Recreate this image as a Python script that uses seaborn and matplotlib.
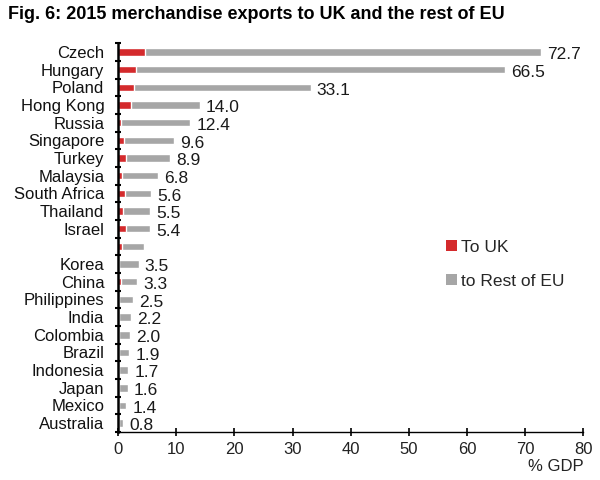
import matplotlib
matplotlib.use("Agg")
import matplotlib.pyplot as plt
from matplotlib.patches import Patch
from matplotlib.ticker import FixedLocator
import seaborn as sns
import pandas as pd

countries = ["Czech", "Hungary", "Poland", "Hong Kong", "Russia", "Singapore",
             "Turkey", "Malaysia", "South Africa", "Thailand", "Israel", " ",
             "Korea", "China", "Philippines", "India", "Colombia", "Brazil",
             "Indonesia", "Japan", "Mexico", "Australia"]
total = [72.7, 66.5, 33.1, 14.0, 12.4, 9.6, 8.9, 6.8, 5.6, 5.5, 5.4, 4.4,
         3.5, 3.3, 2.5, 2.2, 2.0, 1.9, 1.7, 1.6, 1.4, 0.8]
to_uk = [4.6, 3.1, 2.7, 2.2, 0.5, 1.0, 1.3, 0.7, 1.1, 0.8, 1.3, 0.7,
         0.2, 0.5, 0.1, 0.1, 0.1, 0.1, 0.1, 0.1, 0.1, 0.1]
value_labels = ["72.7", "66.5", "33.1", "14.0", "12.4", "9.6", "8.9", "6.8",
                "5.6", "5.5", "5.4", "", "3.5", "3.3", "2.5", "2.2", "2.0",
                "1.9", "1.7", "1.6", "1.4", "0.8"]
x_ticks = [0, 10, 20, 30, 40, 50, 60, 70, 80]

RED = "#D42A2C"
GRAY = "#A6A6A6"

sns.set_theme(style="white")
plt.rcParams["font.family"] = ["Liberation Sans", "DejaVu Sans"]

df = pd.DataFrame({"country": countries, "total": total, "uk": to_uk})

fig = plt.figure(figsize=(6, 4.8), dpi=100)
ax = fig.add_axes([0.197, 0.100, 0.775, 0.810])

sns.barplot(data=df, y="country", x="total", order=countries, color=GRAY,
            width=0.42, saturation=1, ax=ax, orient="h")
sns.barplot(data=df, y="country", x="uk", order=countries, color=RED,
            width=0.42, saturation=1, ax=ax, orient="h")

for i, (v, lab) in enumerate(zip(total, value_labels)):
    if lab:
        ax.annotate(lab, xy=(v, i), xytext=(4.5, -2), textcoords="offset points",
                    ha="left", va="center", fontsize=12.5, color="#1a1a1a")

ax.set_xlim(0, 80)
ax.set_ylim(len(countries) - 0.5, -0.5)
ax.set_xticks(x_ticks)
ax.set_xticklabels([str(t) for t in x_ticks], fontsize=12, color="#222222")
ax.set_xlabel("")
ax.set_ylabel("")
ax.tick_params(axis="y", which="major", length=0, labelsize=12, pad=10,
               labelcolor="#111111")
ax.yaxis.set_minor_locator(FixedLocator([i + 0.5 for i in range(-1, len(countries))]))
ax.tick_params(axis="y", which="minor", length=5, width=1.5, direction="inout",
               color="black", left=True)
ax.tick_params(axis="x", which="major", length=6, width=1.2, direction="inout",
               color="black", bottom=True, pad=4)

for s in ["top", "right"]:
    ax.spines[s].set_visible(False)
ax.spines["left"].set_color("black")
ax.spines["left"].set_linewidth(1.8)
ax.spines["bottom"].set_color("black")
ax.spines["bottom"].set_linewidth(1.0)

fig.text(0.972, 0.028, "% GDP", ha="right", va="center", fontsize=12,
         color="#222222")
fig.text(0.013, 0.969, "Fig. 6: 2015 merchandise exports to UK and the rest of EU",
         ha="left", va="center", fontsize=13, fontweight="bold", color="black")

handles = [Patch(facecolor=RED, edgecolor="none"),
           Patch(facecolor=GRAY, edgecolor="none")]
fig.legend(handles, ["To UK", "to Rest of EU"], loc="upper left",
           bbox_to_anchor=(0.718, 0.533), frameon=False, fontsize=12.5,
           handlelength=0.6, handleheight=0.6, handletextpad=0.25,
           labelspacing=1.1)

fig.savefig("out.png", dpi=100)
